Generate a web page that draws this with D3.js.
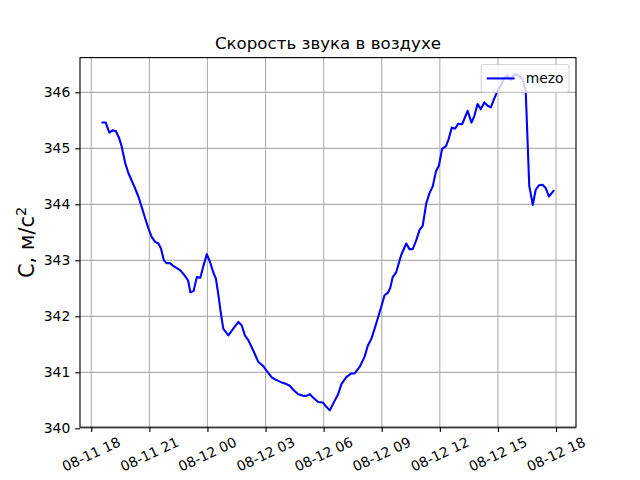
<!DOCTYPE html>
<html><head><meta charset="utf-8">
<script src="https://cdn.jsdelivr.net/npm/d3@7"></script>
<style>body{margin:0;background:#fff}svg{display:block}text{font-family:"DejaVu Sans",sans-serif}</style>
</head><body>
<script>
const title = "Скорость звука в воздухе";
const seriesName = "mezo";
const times = [
"2024-08-11 18:35","2024-08-11 18:45","2024-08-11 18:56","2024-08-11 19:06","2024-08-11 19:16","2024-08-11 19:26",
"2024-08-11 19:34","2024-08-11 19:45","2024-08-11 19:55","2024-08-11 20:11","2024-08-11 20:26","2024-08-11 20:36",
"2024-08-11 20:47","2024-08-11 20:57","2024-08-11 21:07","2024-08-11 21:18","2024-08-11 21:28","2024-08-11 21:36",
"2024-08-11 21:45","2024-08-11 21:53","2024-08-11 22:04","2024-08-11 22:14","2024-08-11 22:36","2024-08-11 22:49",
"2024-08-11 23:00","2024-08-11 23:07","2024-08-11 23:17","2024-08-11 23:27","2024-08-11 23:38","2024-08-11 23:48",
"2024-08-11 23:58","2024-08-12 00:08","2024-08-12 00:19","2024-08-12 00:26","2024-08-12 00:34","2024-08-12 00:41",
"2024-08-12 00:49","2024-08-12 01:05","2024-08-12 01:20","2024-08-12 01:36","2024-08-12 01:46","2024-08-12 01:56",
"2024-08-12 02:07","2024-08-12 02:22","2024-08-12 02:37","2024-08-12 02:53","2024-08-12 03:03","2024-08-12 03:19",
"2024-08-12 03:34","2024-08-12 03:50","2024-08-12 04:05","2024-08-12 04:15","2024-08-12 04:26","2024-08-12 04:41",
"2024-08-12 04:57","2024-08-12 05:07","2024-08-12 05:17","2024-08-12 05:27","2024-08-12 05:43","2024-08-12 05:58",
"2024-08-12 06:09","2024-08-12 06:19","2024-08-12 06:34","2024-08-12 06:45","2024-08-12 06:55","2024-08-12 07:11",
"2024-08-12 07:26","2024-08-12 07:36","2024-08-12 07:52","2024-08-12 08:07","2024-08-12 08:17","2024-08-12 08:28",
"2024-08-12 08:38","2024-08-12 08:48","2024-08-12 08:59","2024-08-12 09:09","2024-08-12 09:19","2024-08-12 09:26",
"2024-08-12 09:34","2024-08-12 09:45","2024-08-12 10:00","2024-08-12 10:16","2024-08-12 10:26","2024-08-12 10:36",
"2024-08-12 10:47","2024-08-12 10:57","2024-08-12 11:07","2024-08-12 11:18","2024-08-12 11:28","2024-08-12 11:38",
"2024-08-12 11:48","2024-08-12 11:57","2024-08-12 12:07","2024-08-12 12:19","2024-08-12 12:27","2024-08-12 12:37",
"2024-08-12 12:47","2024-08-12 12:57","2024-08-12 13:09","2024-08-12 13:26","2024-08-12 13:38","2024-08-12 13:47",
"2024-08-12 13:57","2024-08-12 14:07","2024-08-12 14:18","2024-08-12 14:28","2024-08-12 14:38","2024-08-12 14:48",
"2024-08-12 14:59","2024-08-12 15:09","2024-08-12 15:19","2024-08-12 15:30","2024-08-12 15:40","2024-08-12 15:50",
"2024-08-12 16:00","2024-08-12 16:16","2024-08-12 16:26","2024-08-12 16:37","2024-08-12 16:48","2024-08-12 16:57",
"2024-08-12 17:07","2024-08-12 17:18","2024-08-12 17:28","2024-08-12 17:38","2024-08-12 17:52"
];
const speeds = [
345.46,345.46,345.28,345.32,345.31,345.19,
345.04,344.74,344.56,344.35,344.14,343.96,
343.75,343.57,343.42,343.33,343.30,343.21,
343.00,342.95,342.95,342.90,342.82,342.73,
342.64,342.43,342.45,342.70,342.69,342.91,
343.11,342.97,342.77,342.68,342.38,342.08,
341.78,341.66,341.78,341.90,341.84,341.66,
341.57,341.39,341.19,341.11,341.03,340.91,
340.86,340.82,340.79,340.76,340.69,340.61,
340.58,340.58,340.61,340.55,340.47,340.46,
340.38,340.32,340.49,340.61,340.79,340.92,
340.98,340.98,341.10,341.28,341.48,341.60,
341.78,341.97,342.18,342.38,342.42,342.50,
342.70,342.79,343.09,343.30,343.20,343.20,
343.36,343.54,343.62,344.02,344.20,344.32,
344.59,344.69,344.99,345.04,345.16,345.37,
345.35,345.44,345.43,345.67,345.46,345.58,
345.79,345.70,345.82,345.76,345.73,345.88,
346.03,346.12,346.26,346.30,346.22,346.32,
346.31,346.24,346.03,344.33,343.99,344.26,
344.34,344.35,344.29,344.14,344.24
];
const yTicks = [340,341,342,343,344,345,346];

const W = 640, H = 480;
const L = 80, R = 576, T = 57.6, B = 427.2;
const pt = 100/72;
const parse = d3.timeParse("%Y-%m-%d %H:%M");
const data = times.map((t,i)=>({t:parse(t), v:speeds[i]}));

const tExt = d3.extent(data, d=>d.t);
const tSpan = tExt[1]-tExt[0];
const x = d3.scaleTime().domain([new Date(+tExt[0]-0.05*tSpan), new Date(+tExt[1]+0.05*tSpan)]).range([L,R]);
const vExt = d3.extent(data, d=>d.v);
const vSpan = vExt[1]-vExt[0];
const y = d3.scaleLinear().domain([vExt[0]-0.05*vSpan, vExt[1]+0.05*vSpan]).range([B,T]);

const svg = d3.select("body").append("svg").attr("width",W).attr("height",H);
svg.append("rect").attr("width",W).attr("height",H).attr("fill","#fff");

const xTicks = x.ticks(d3.timeHour.every(3));
const fmt = d3.timeFormat("%m-%d %H");

// grid
const grid = svg.append("g");
grid.selectAll("line.gx").data(xTicks).join("line")
  .attr("x1",d=>x(d)).attr("x2",d=>x(d)).attr("y1",T).attr("y2",B)
  .attr("stroke","#b0b0b0").attr("stroke-width",0.8*pt);
grid.selectAll("line.gy").data(yTicks).join("line")
  .attr("x1",L).attr("x2",R).attr("y1",d=>y(d)).attr("y2",d=>y(d))
  .attr("stroke","#b0b0b0").attr("stroke-width",0.8*pt);

// line
const line = d3.line().x(d=>x(d.t)).y(d=>y(d.v));
svg.append("path").datum(data).attr("d",line).attr("fill","none")
  .attr("stroke","#0000ff").attr("stroke-width",1.5*pt).attr("stroke-linejoin","round").attr("stroke-linecap","square");

// axes
const xAxis = d3.axisBottom(x).tickValues(xTicks).tickFormat("").tickSize(3.5*pt).tickSizeOuter(0);
const gx = svg.append("g").attr("transform",`translate(0,${B})`).call(xAxis);
gx.select(".domain").remove();
gx.selectAll("line").attr("stroke","#000").attr("stroke-width",0.8*pt);

const yAxis = d3.axisLeft(y).tickValues(yTicks).tickFormat(d3.format("d")).tickSize(3.5*pt).tickPadding(3.5*pt).tickSizeOuter(0);
const gy = svg.append("g").attr("transform",`translate(${L},0)`).call(yAxis);
gy.select(".domain").remove();
gy.selectAll("line").attr("stroke","#000").attr("stroke-width",0.8*pt);
gy.selectAll("text").attr("font-size",10*pt).attr("font-family","DejaVu Sans").attr("fill","#000");

// rotated x tick labels (matplotlib style: rotation 25, ha center, va top)
const rot = 25*Math.PI/180;
const fs = 10*pt;
const labelTop = B + 3.5*pt + 3.5*pt;
xTicks.forEach(d=>{
  const tx = svg.append("text").text(fmt(d)).attr("font-size",fs).attr("fill","#000")
    .attr("text-anchor","middle").attr("dominant-baseline","central");
  const w = tx.node().getComputedTextLength();
  const hh = (w*Math.sin(rot) + fs*0.8*Math.cos(rot))/2;
  const cx = x(d), cy = labelTop + hh - 1;
  tx.attr("x",cx).attr("y",cy).attr("transform",`rotate(-25,${cx},${cy})`);
});

// spines
svg.append("rect").attr("x",L).attr("y",T).attr("width",R-L).attr("height",B-T)
  .attr("fill","none").attr("stroke","#000").attr("stroke-width",0.8*pt);

// title
svg.append("text").attr("x",(L+R)/2).attr("y",T-6*pt).attr("text-anchor","middle")
  .attr("font-size",12*pt).attr("fill","#000").text(title);

// y label
const yl = svg.append("text").attr("transform",`translate(33.5,${(T+B)/2}) rotate(-90)`)
  .attr("text-anchor","middle").attr("font-size",15*pt).attr("fill","#000");
yl.append("tspan").text("C, м/с");
yl.append("tspan").attr("dy",-8).attr("font-size",15*pt*0.7).text("2");

// legend
const lgRight = R - 0.5*fs, lgTop = T + 0.5*fs;
const lg = svg.append("g");
const lgText = lg.append("text").attr("font-size",fs).attr("fill","#000").text(seriesName);
const tw = lgText.node().getComputedTextLength();
const lgW = 0.4*fs + 2.0*fs + 0.8*fs + tw + 0.4*fs;
const lgH = 0.4*fs*2 + fs*1.2;
const lgLeft = lgRight - lgW;
lg.insert("rect","text").attr("x",lgLeft).attr("y",lgTop).attr("width",lgW).attr("height",lgH)
  .attr("rx",0.2*fs).attr("fill","#fff").attr("fill-opacity",0.8)
  .attr("stroke","#cccccc").attr("stroke-opacity",0.8).attr("stroke-width",1.0*pt*0.8);
const cyL = lgTop + lgH/2;
lg.insert("line","text").attr("x1",lgLeft+0.4*fs).attr("x2",lgLeft+0.4*fs+2.0*fs).attr("y1",cyL).attr("y2",cyL)
  .attr("stroke","#0000ff").attr("stroke-width",1.5*pt);
lgText.attr("x",lgLeft+0.4*fs+2.0*fs+0.8*fs).attr("y",cyL).attr("dominant-baseline","central");
</script>
</body></html>
